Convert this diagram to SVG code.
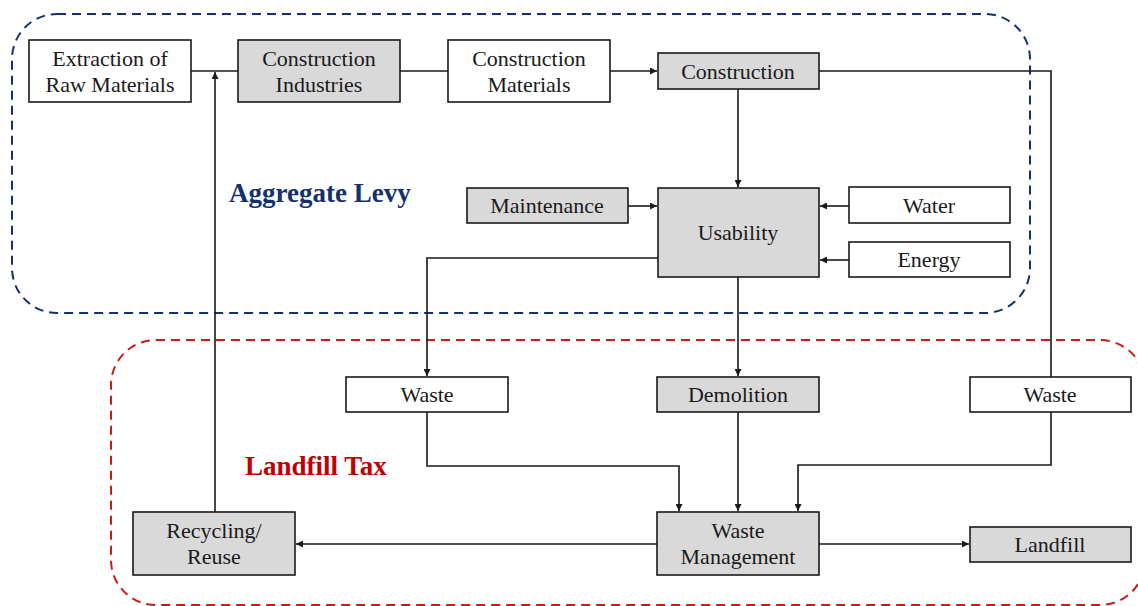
<svg xmlns="http://www.w3.org/2000/svg" width="1138" height="606" viewBox="0 0 1138 606">
  <style>
    .box { stroke: #1a1a1a; stroke-width: 1.6; }
    .w { fill: #ffffff; }
    .g { fill: #d9d9d9; }
    .t { font-family: "Liberation Serif", "Times New Roman", serif; font-size: 22px; fill: #1a1a1a; text-anchor: middle; }
    .ln { fill: none; stroke: #1a1a1a; stroke-width: 1.6; }
    .arr { fill: none; stroke: #1a1a1a; stroke-width: 1.6; marker-end: url(#ah); }
    .zone { fill: none; stroke-width: 2; stroke-dasharray: 9 6; }
    .lbl { font-family: "Liberation Serif", "Times New Roman", serif; font-size: 27px; font-weight: bold; }
  </style>
  <defs>
    <marker id="ah" viewBox="0 0 10 10" refX="10" refY="5" markerWidth="7" markerHeight="7" markerUnits="userSpaceOnUse" orient="auto">
      <path d="M0,0 L10,5 L0,10 z" fill="#1a1a1a"/>
    </marker>
  </defs>

  <!-- tax zones -->
  <g id="zone-aggregate-levy">
    <rect class="zone" x="12" y="14" width="1018" height="299" rx="45" ry="45" stroke="#14306e"/>
    <text class="lbl" x="229" y="202" fill="#14306e">Aggregate Levy</text>
  </g>
  <g id="zone-landfill-tax">
    <rect class="zone" x="111" y="340" width="1034" height="265" rx="45" ry="45" stroke="#cc1a1a"/>
    <text class="lbl" x="245" y="475" fill="#c00000">Landfill Tax</text>
  </g>

  <!-- connectors -->
  <g id="connectors">
    <path class="ln" d="M191,71 H238"/>
    <path class="ln" d="M400,71 H448"/>
    <path class="arr" d="M610,71 H657"/>
    <path class="ln" d="M819,71 H1051 V377"/>
    <path class="arr" d="M738,89 V187"/>
    <path class="arr" d="M628,206 H657"/>
    <path class="arr" d="M849,206 H820"/>
    <path class="arr" d="M849,260 H820"/>
    <path class="arr" d="M658,258 H427 V376"/>
    <path class="arr" d="M738,277 V376"/>
    <path class="arr" d="M427,412 V466 H679 V511"/>
    <path class="arr" d="M738,412 V511"/>
    <path class="arr" d="M1051,412 V465 H798 V511"/>
    <path class="arr" d="M657,544 H296"/>
    <path class="arr" d="M819,544 H969"/>
    <path class="arr" d="M215,512 V72"/>
  </g>

  <!-- nodes -->
  <g id="extraction">
    <rect class="box w" x="29" y="40" width="162" height="62"/>
    <text class="t" x="110" y="66">Extraction of</text>
    <text class="t" x="110" y="92">Raw Materials</text>
  </g>
  <g id="construction-industries">
    <rect class="box g" x="238" y="40" width="162" height="62"/>
    <text class="t" x="319" y="66">Construction</text>
    <text class="t" x="319" y="92">Industries</text>
  </g>
  <g id="construction-materials">
    <rect class="box w" x="448" y="40" width="162" height="62"/>
    <text class="t" x="529" y="66">Construction</text>
    <text class="t" x="529" y="92">Materials</text>
  </g>
  <g id="construction">
    <rect class="box g" x="658" y="53" width="161" height="36"/>
    <text class="t" x="738" y="79">Construction</text>
  </g>
  <g id="maintenance">
    <rect class="box g" x="467" y="188" width="161" height="35"/>
    <text class="t" x="547" y="213">Maintenance</text>
  </g>
  <g id="usability">
    <rect class="box g" x="658" y="188" width="161" height="89"/>
    <text class="t" x="738" y="240">Usability</text>
  </g>
  <g id="water">
    <rect class="box w" x="849" y="187" width="161" height="36"/>
    <text class="t" x="929" y="213">Water</text>
  </g>
  <g id="energy">
    <rect class="box w" x="849" y="242" width="161" height="35"/>
    <text class="t" x="929" y="267">Energy</text>
  </g>
  <g id="waste-left">
    <rect class="box w" x="346" y="377" width="162" height="35"/>
    <text class="t" x="427" y="402">Waste</text>
  </g>
  <g id="demolition">
    <rect class="box g" x="657" y="377" width="162" height="35"/>
    <text class="t" x="738" y="402">Demolition</text>
  </g>
  <g id="waste-right">
    <rect class="box w" x="970" y="377" width="161" height="35"/>
    <text class="t" x="1050" y="402">Waste</text>
  </g>
  <g id="waste-management">
    <rect class="box g" x="657" y="512" width="162" height="63"/>
    <text class="t" x="738" y="538">Waste</text>
    <text class="t" x="738" y="564">Management</text>
  </g>
  <g id="recycling">
    <rect class="box g" x="133" y="512" width="162" height="63"/>
    <text class="t" x="214" y="538">Recycling/</text>
    <text class="t" x="214" y="564">Reuse</text>
  </g>
  <g id="landfill">
    <rect class="box g" x="970" y="527" width="161" height="35"/>
    <text class="t" x="1050" y="552">Landfill</text>
  </g>
</svg>
